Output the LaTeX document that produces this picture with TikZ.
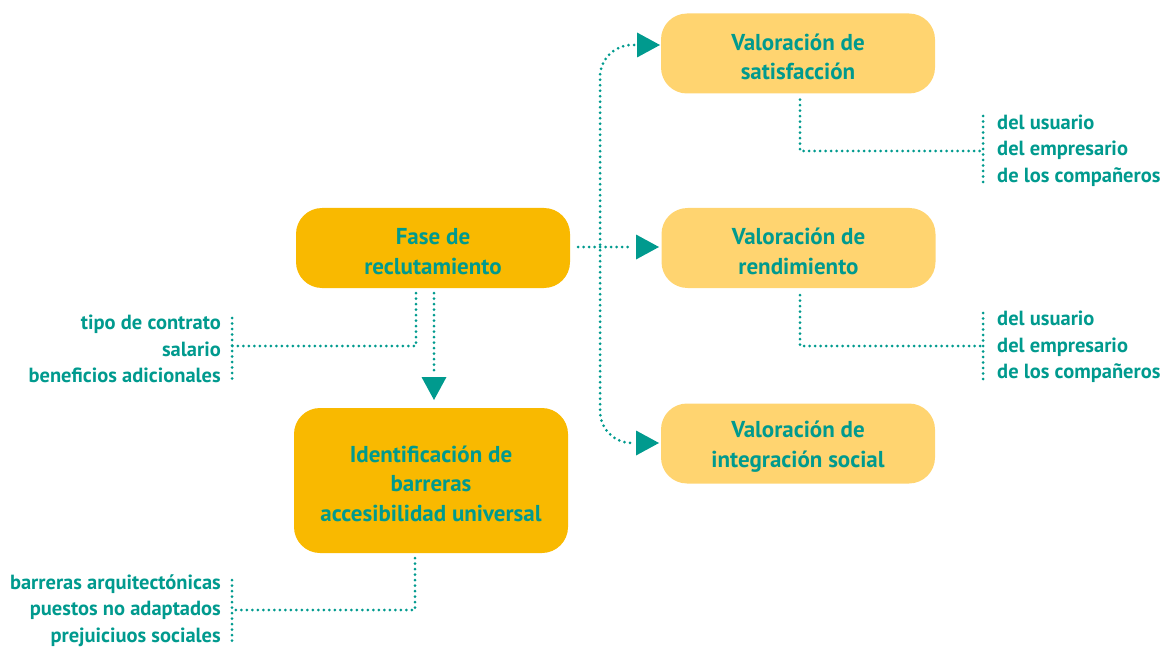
\documentclass[tikz,border=0pt]{standalone}
\usepackage{fontspec}
\setmainfont{PT Sans}
\definecolor{teal}{RGB}{0,154,142}
\definecolor{darkyel}{RGB}{249,185,0}
\definecolor{lightyel}{RGB}{255,212,112}
\newcommand{\topstrut}{\rule{0pt}{23pt}}
\tikzset{
  boxdark/.style={fill=darkyel, rounded corners=26pt, minimum width=274pt, align=center, text=teal, font=\bfseries\fontsize{23}{29.5}\selectfont},
  boxlight/.style={fill=lightyel, rounded corners=26pt, minimum width=274pt, minimum height=80pt, align=center, text=teal, font=\bfseries\fontsize{23}{29.5}\selectfont},
  lbl/.style={text=teal, font=\bfseries\fontsize{20.5}{26.3}\selectfont, inner sep=0pt},
  dotline/.style={teal, line width=3pt, dash pattern=on 0pt off 5.5pt, line cap=round},
  tipfill/.style={fill=teal},
}
\begin{document}
\begin{tikzpicture}[x=1pt,y=-1pt]
\useasboundingbox (0,0) rectangle (1163,650);
% boxes
\node[boxdark, minimum height=80pt] (fase) at (433,248) {\topstrut Fase de\\reclutamiento};
\node[boxdark, minimum height=145pt] (ident) at (431,480.5) {\topstrut Identificación de\\barreras\\accesibilidad universal};
\node[boxlight] (sat) at (798,53.5) {\topstrut Valoración de\\satisfacción};
\node[boxlight] (rend) at (798.5,248) {\topstrut Valoración de\\rendimiento};
\node[boxlight] (integ) at (798,443.5) {\topstrut Valoración de\\integración social};
% labels
\node[lbl, anchor=east, align=right] (l1) at (221,349) {tipo de contrato\\salario\\beneficios adicionales};
\node[lbl, anchor=east, align=right] (l2) at (221,610.5) {barreras arquitectónicas\\puestos no adaptados\\prejuiciuos sociales};
\node[lbl, anchor=west, align=left] (r1) at (997,150.5) {del usuario\\del empresario\\de los compañeros};
\node[lbl, anchor=west, align=left] (r2) at (997,347) {del usuario\\del empresario\\de los compañeros};
% coordinates
\coordinate (trunk) at (600,247);
\coordinate (e1) at (634,45);
\coordinate (t1) at (660,45);
\coordinate (e2) at (632,247);
\coordinate (t2) at (659,247);
\coordinate (e3) at (634,443);
\coordinate (t3) at (659,443);
\coordinate (e4) at (434,372);
\coordinate (t4) at (434,400);
\coordinate (b1) at (232,346);
\coordinate (b2) at (232,610);
\coordinate (b3) at (983,151);
\coordinate (b4) at (983,346);
% connectors
\draw[dotline] (fase.east) ++(8,-1) -- (e2);
\draw[dotline, rounded corners=32pt] (e1) -| (trunk) |- (e3);
\draw[dotline] (fase.south) ++(-17,5) |- (b1);
\draw[dotline] (fase.south) ++(1,5) -- (e4);
\draw[dotline] (ident.south) ++(-16,5) |- (b2);
\draw[dotline] (sat.south) ++(2,6) |- (b3);
\draw[dotline] (rend.south) ++(1.5,7) |- (b4);
% brackets
\draw[dotline] (232,318) -- (232,379);
\draw[dotline] (232,580) -- (232,643);
\draw[dotline] (983,116) -- (983,186);
\draw[dotline] (983,313) -- (983,381);
% arrow tips
\fill[tipfill] (t1) -- ++(-23,-12.5) -- ++(0,25) -- cycle;
\fill[tipfill] (t2) -- ++(-23,-12.5) -- ++(0,25) -- cycle;
\fill[tipfill] (t3) -- ++(-23,-12.5) -- ++(0,25) -- cycle;
\fill[tipfill] (t4) -- ++(-12.5,-23) -- ++(25,0) -- cycle;
\end{tikzpicture}
\end{document}
